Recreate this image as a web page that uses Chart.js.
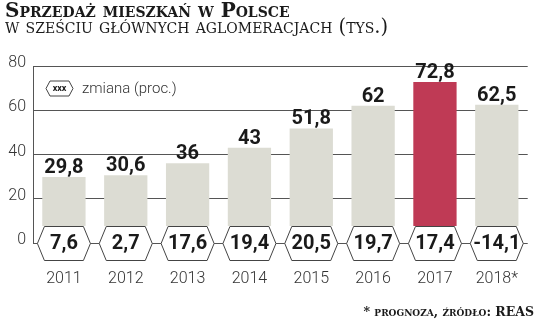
<!DOCTYPE html>
<html>
<head>
<meta charset="utf-8">
<script src="https://cdn.jsdelivr.net/npm/chart.js@4.4.0/dist/chart.umd.min.js"></script>
<style>
    html, body { margin: 0; padding: 0; background: #fff; }
    #wrap { position: relative; width: 536px; height: 327px; overflow: hidden; }
    #myChart { position: absolute; left: 0; top: 0; }
    .head { position: absolute; left: 5px; font-family: 'DejaVu Serif', serif; font-variant: small-caps; color: #1a1a1a; white-space: nowrap; line-height: 20px; }
    #t1 { top: 0px; font-size: 20px; font-weight: bold; }
    #t2 { top: 17px; font-size: 19.5px; }
    #note { position: absolute; right: 2px; top: 305px; font-family: 'DejaVu Serif', serif; font-variant: small-caps; font-size: 12.5px; font-weight: 600; line-height: 14px; color: #1a1a1a; white-space: nowrap; }
</style>
</head>
<body>
<div id="wrap">
    <canvas id="myChart" width="536" height="327"></canvas>
    <div class="head" id="t1">Sprzedaż mieszkań w Polsce</div>
    <div class="head" id="t2">w sześciu głównych aglomeracjach (tys.)</div>
    <div id="note">* prognoza, źródło: REAS</div>
</div>
<script>
// dane
const years = ["2011", "2012", "2013", "2014", "2015", "2016", "2017", "2018*"];
const sales = [29.8, 30.6, 36, 43, 51.8, 62, 72.8, 62.5];      // tys. mieszkań
const change = [7.6, 2.7, 17.6, 19.4, 20.5, 19.7, 17.4, -14.1]; // zmiana r/r (proc.)
const yTicks = [0, 20, 40, 60, 80];

const GREY = "#dcdcd3";
const RED = "#bf3a55";
const LINE = "#555";
const TEXT = "#1a1a1a";
const NUM_FONT = "Roboto, sans-serif";

function fmt(v) {
    return String(v).replace(".", ",");
}

// sześciokąt z ostrymi bokami (lewy/prawy)
function hexPath(ctx, cx, cy, w, h, inset) {
    ctx.beginPath();
    ctx.moveTo(cx - w / 2, cy);
    ctx.lineTo(cx - w / 2 + inset, cy - h / 2);
    ctx.lineTo(cx + w / 2 - inset, cy - h / 2);
    ctx.lineTo(cx + w / 2, cy);
    ctx.lineTo(cx + w / 2 - inset, cy + h / 2);
    ctx.lineTo(cx - w / 2 + inset, cy + h / 2);
    ctx.closePath();
}

const labelsPlugin = {
    id: "labelsPlugin",
    afterDatasetsDraw(chart) {
        const ctx = chart.ctx;
        const area = chart.chartArea;
        const y0 = chart.scales.y.getPixelForValue(0);
        const bars = chart.getDatasetMeta(0).data;
        ctx.save();

        // biały pas pod sześciokątami
        ctx.fillStyle = "#fff";
        ctx.fillRect(area.left + 1, y0 - 17, area.right - area.left, 19);

        // linia zera
        ctx.strokeStyle = LINE;
        ctx.lineWidth = 1;
        ctx.beginPath();
        ctx.moveTo(area.left, Math.round(y0) + 0.5);
        ctx.lineTo(area.right, Math.round(y0) + 0.5);
        ctx.stroke();

        ctx.textAlign = "center";
        bars.forEach((bar, i) => {
            // wartość nad słupkiem
            ctx.fillStyle = TEXT;
            ctx.font = "bold 20px " + NUM_FONT;
            ctx.textBaseline = "alphabetic";
            ctx.fillText(fmt(sales[i]), bar.x, bar.y - 4);

            // zmiana procentowa w sześciokącie
            hexPath(ctx, bar.x, Math.round(y0) + 0.5, 53, 34, 7);
            ctx.fillStyle = "#fff";
            ctx.fill();
            ctx.strokeStyle = "#444";
            ctx.stroke();
            ctx.fillStyle = TEXT;
            ctx.textBaseline = "middle";
            ctx.fillText(fmt(change[i]), bar.x, y0 + 1);
        });

        // legenda
        hexPath(ctx, 59.5, 88.5, 27, 15, 4);
        ctx.fillStyle = "#fff";
        ctx.fill();
        ctx.strokeStyle = "#444";
        ctx.stroke();
        ctx.fillStyle = TEXT;
        ctx.font = "bold 9px " + NUM_FONT;
        ctx.fillText("xxx", 59.5, 89);
        ctx.textAlign = "left";
        ctx.fillStyle = "#333";
        ctx.font = "300 15px " + NUM_FONT;
        ctx.fillText("zmiana (proc.)", 82, 89);

        ctx.restore();
    }
};

let chart;

function initChart() {
    const ctx = document.getElementById("myChart").getContext("2d");
    chart = new Chart(ctx, {
        type: "bar",
        data: {
            labels: years,
            datasets: [
                {
                    data: sales,
                    backgroundColor: years.map((y, i) => (i === 6 ? RED : GREY)),
                    borderWidth: 0,
                    barPercentage: 0.7,
                    categoryPercentage: 1.0,
                }
            ],
        },
        options: {
            responsive: false,
            animation: false,
            layout: { padding: { top: 66, right: 1, bottom: 0, left: 0 } },
            plugins: {
                legend: { display: false },
                tooltip: { enabled: false },
            },
            scales: {
                x: {
                    grid: { display: false },
                    border: { display: false },
                    ticks: {
                        color: "#333",
                        font: { family: NUM_FONT, size: 16, weight: "300" },
                        padding: 18,
                        maxRotation: 0,
                    },
                    afterFit(scale) { scale.height = 84; },
                },
                y: {
                    min: 0,
                    max: 80,
                    afterBuildTicks(scale) {
                        scale.ticks = yTicks.map(v => ({ value: v }));
                    },
                    grid: { color: LINE, drawTicks: false, lineWidth: 1 },
                    border: { display: true, color: LINE },
                    ticks: {
                        color: "#333",
                        font: { family: NUM_FONT, size: 16, weight: "300" },
                        padding: 7,
                        labelOffset: -3,
                    },
                    afterFit(scale) { scale.width = 33; },
                },
            },
        },
        plugins: [labelsPlugin],
    });
}

window.onload = function () {
    initChart();
};
</script>
</body>
</html>
